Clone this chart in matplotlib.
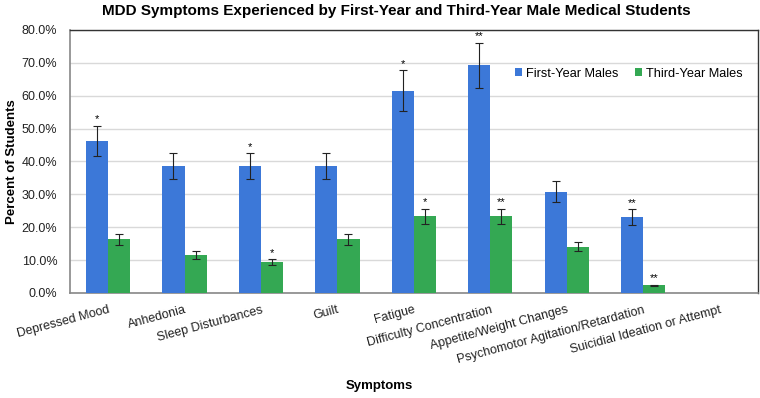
import matplotlib
matplotlib.use("Agg")
import matplotlib.pyplot as plt
import numpy as np
from matplotlib.ticker import FuncFormatter

plt.rcParams['font.family'] = ['Liberation Sans', 'DejaVu Sans']

categories = ["Depressed Mood", "Anhedonia", "Sleep Disturbances", "Guilt", "Fatigue",
              "Difficulty Concentration", "Appetite/Weight Changes",
              "Psychomotor Agitation/Retardation", "Suicidial Ideation or Attempt"]
first_year = [46.2, 38.5, 38.5, 38.5, 61.5, 69.2, 30.8, 23.1, 0.0]
third_year = [16.3, 11.6, 9.3, 16.3, 23.3, 23.3, 14.0, 2.3, 0.0]
first_err = [4.6, 3.9, 3.9, 3.9, 6.2, 6.9, 3.1, 2.3, 0.0]
third_err = [1.6, 1.2, 0.9, 1.6, 2.3, 2.3, 1.4, 0.2, 0.0]
first_sig = ["*", "", "*", "", "*", "**", "", "**", ""]
third_sig = ["", "", "*", "", "*", "**", "", "**", ""]
series_names = ["First-Year Males", "Third-Year Males"]

blue = "#3c78d8"
green = "#34a853"

fig = plt.figure(figsize=(7.6, 3.98), dpi=100)
ax = fig.add_axes([0.092, 0.264, 0.905, 0.661])

x = np.arange(len(categories))
w = 0.29
ax.bar(x - w/2, first_year, w, color=blue, label=series_names[0], zorder=3)
ax.bar(x + w/2, third_year, w, color=green, label=series_names[1], zorder=3)

ekw = dict(fmt="none", elinewidth=0.8, capthick=0.8, ecolor="#222222", capsize=3, zorder=4)
for i in range(len(categories)):
    if first_year[i] > 0:
        ax.errorbar(x[i] - w/2, first_year[i], yerr=first_err[i], **ekw)
    if third_year[i] > 0:
        ax.errorbar(x[i] + w/2, third_year[i], yerr=third_err[i], **ekw)
    if first_sig[i]:
        ax.text(x[i] - w/2, first_year[i] + first_err[i] + 0.5, first_sig[i],
                ha="center", va="bottom", fontsize=8)
    if third_sig[i]:
        ax.text(x[i] + w/2, third_year[i] + third_err[i] + 0.5, third_sig[i],
                ha="center", va="bottom", fontsize=8)

ax.set_xlim(-0.5, len(categories) - 0.5)
ax.set_ylim(0, 80)
ax.set_yticks(np.arange(0, 81, 10))
ax.yaxis.set_major_formatter(FuncFormatter(lambda v, p: f"{v:.1f}%"))
ax.grid(axis="y", color="#d9d9d9", linewidth=1, zorder=0)
ax.set_axisbelow(True)
ax.tick_params(axis="both", length=0, labelsize=9, colors="#222222")
ax.tick_params(axis="y", pad=9)
ax.set_xticks(x)
ax.set_xticklabels(categories, rotation=15, ha="right", rotation_mode="anchor")
ax.tick_params(axis="x", pad=8)

for s in ["top", "right"]:
    ax.spines[s].set_color("#333333")
    ax.spines[s].set_linewidth(1)
for s in ["left", "bottom"]:
    ax.spines[s].set_color("#888888")
    ax.spines[s].set_linewidth(1.2)

ax.set_ylabel("Percent of Students", fontsize=9.5, fontweight="bold")
ax.yaxis.set_label_coords(-0.076, 0.5)
ax.set_xlabel("Symptoms", fontsize=9.5, fontweight="bold")
ax.xaxis.set_label_coords(0.45, -0.33)
fig.suptitle("MDD Symptoms Experienced by First-Year and Third-Year Male Medical Students",
             fontsize=11, fontweight="bold", x=0.522, y=0.99)

ax.legend(loc="upper right", bbox_to_anchor=(0.995, 0.90), frameon=False, fontsize=9.2,
          ncol=2, handlelength=0.55, handleheight=0.55, handletextpad=0.3, columnspacing=1.3)

fig.savefig("out.png", dpi=100)
